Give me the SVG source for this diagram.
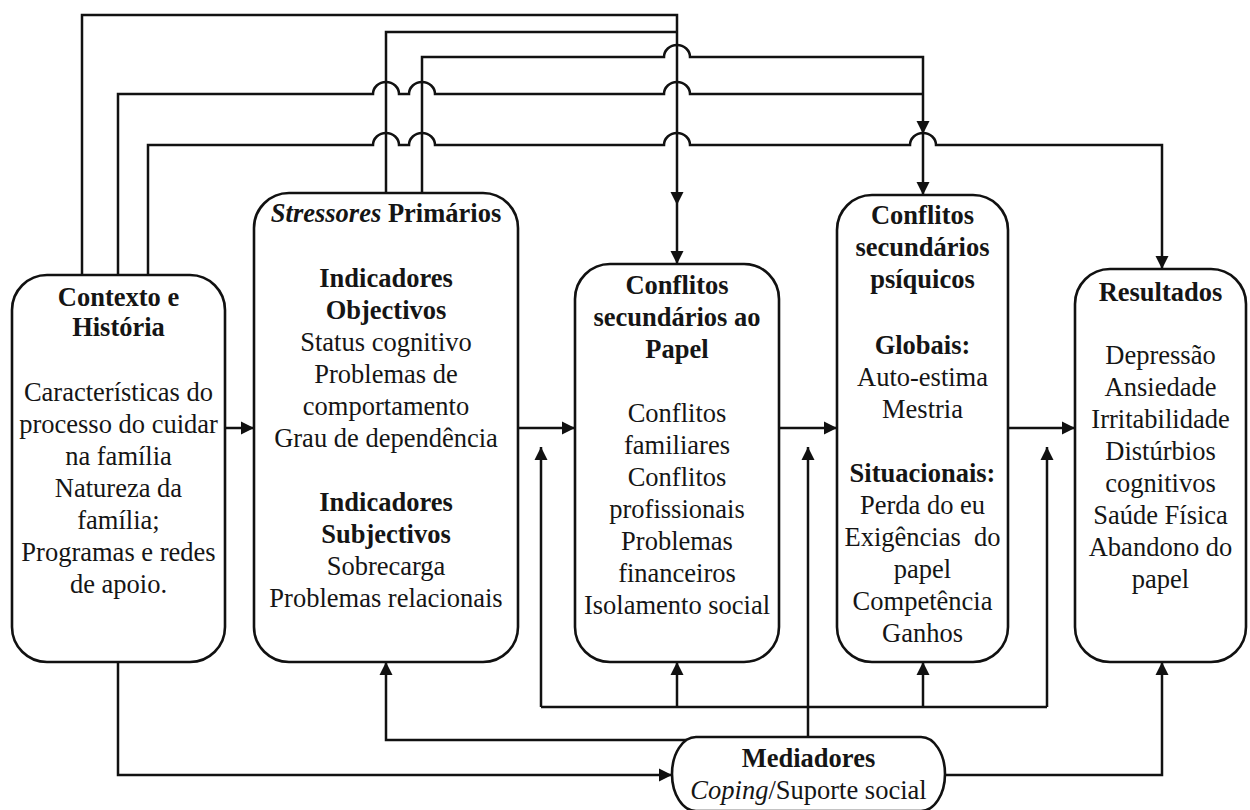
<svg xmlns="http://www.w3.org/2000/svg" xmlns:xlink="http://www.w3.org/1999/xlink" width="1250" height="810" viewBox="0 0 1250 810">
  <style>
    .box { fill: #ffffff; stroke: #111111; stroke-width: 2.6; }
    .ln { fill: none; stroke: #111111; stroke-width: 2.5; stroke-linejoin: miter; }
    .ah { fill: #111111; }
    .lbl text { font-size: 26.5px; fill: #151515; text-anchor: middle; }
    .b { font-weight: bold; }
    .i { font-style: italic; }
  </style>
  <defs>
    <!-- arrowhead pointing down, tip at origin -->
    <path id="ah" d="M0 0 L-6.5 -13 L6.5 -13 Z"/>
  </defs>
  <rect width="1250" height="810" fill="#ffffff"/>

  <!-- connectors -->
  <g id="connectors">
    <!-- feedback lines across the top, with hops at crossings -->
    <path class="ln" d="M82 275 V15 H677 V264"/>
    <path class="ln" d="M386 193 V32 H677"/>
    <path class="ln" d="M422 193 V57 H664 A13 12 0 0 1 690 57 H923 V195"/>
    <path class="ln" d="M118 275 V94 H373 A13 12 0 0 1 399 94 H409 A13 12 0 0 1 435 94 H664 A13 12 0 0 1 690 94 H923"/>
    <path class="ln" d="M148 275 V145 H373 A13 12 0 0 1 399 145 H409 A13 12 0 0 1 435 145 H664 A13 12 0 0 1 690 145 H910 A13 12 0 0 1 936 145 H1162 V269"/>

    <!-- main chain -->
    <path class="ln" d="M225 428 H254"/>
    <path class="ln" d="M518 428 H575"/>
    <path class="ln" d="M779 428 H837"/>
    <path class="ln" d="M1008 428 H1075"/>

    <!-- mediator lines -->
    <path class="ln" d="M541 707 V447"/>
    <path class="ln" d="M1047 707 V447"/>
    <path class="ln" d="M541 707 H1047"/>
    <path class="ln" d="M677 707 V662"/>
    <path class="ln" d="M923 707 V662"/>
    <path class="ln" d="M808 738 V447"/>
    <path class="ln" d="M688 740 H386 V662"/>
    <path class="ln" d="M118 662 V775 H672"/>
    <path class="ln" d="M945 775 H1162 V662"/>

    <!-- arrowheads: down -->
    <use xlink:href="#ah" class="ah" transform="translate(677,205)"/>
    <use xlink:href="#ah" class="ah" transform="translate(677,264)"/>
    <use xlink:href="#ah" class="ah" transform="translate(923,134)"/>
    <use xlink:href="#ah" class="ah" transform="translate(923,195)"/>
    <use xlink:href="#ah" class="ah" transform="translate(1162,269)"/>
    <!-- arrowheads: right -->
    <use xlink:href="#ah" class="ah" transform="translate(254,428) rotate(-90)"/>
    <use xlink:href="#ah" class="ah" transform="translate(575,428) rotate(-90)"/>
    <use xlink:href="#ah" class="ah" transform="translate(837,428) rotate(-90)"/>
    <use xlink:href="#ah" class="ah" transform="translate(1075,428) rotate(-90)"/>
    <use xlink:href="#ah" class="ah" transform="translate(672,775) rotate(-90)"/>
    <!-- arrowheads: up -->
    <use xlink:href="#ah" class="ah" transform="translate(541,447) rotate(180)"/>
    <use xlink:href="#ah" class="ah" transform="translate(808,447) rotate(180)"/>
    <use xlink:href="#ah" class="ah" transform="translate(1047,447) rotate(180)"/>
    <use xlink:href="#ah" class="ah" transform="translate(386,662) rotate(180)"/>
    <use xlink:href="#ah" class="ah" transform="translate(677,662) rotate(180)"/>
    <use xlink:href="#ah" class="ah" transform="translate(923,662) rotate(180)"/>
    <use xlink:href="#ah" class="ah" transform="translate(1162,662) rotate(180)"/>
  </g>

  <g class="lbl" font-family="'Liberation Serif', 'Times New Roman', Times, 'DejaVu Serif', serif">
  <g id="contexto">
    <rect class="box" x="12" y="275" width="213" height="387" rx="35" ry="35"/>
    <text x="118.5" y="306" class="b">Contexto e</text>
    <text x="118.5" y="336" class="b">História</text>
    <text x="118.5" y="401">Características do</text>
    <text x="118.5" y="433">processo do cuidar</text>
    <text x="118.5" y="465">na família</text>
    <text x="118.5" y="497">Natureza da</text>
    <text x="118.5" y="529">família;</text>
    <text x="118.5" y="561">Programas e redes</text>
    <text x="118.5" y="593">de apoio.</text>
  </g>

  <g id="stressores">
    <rect class="box" x="254" y="193" width="264" height="469" rx="35" ry="35"/>
    <text x="386" y="222" class="b"><tspan class="i">Stressores</tspan> Primários</text>
    <text x="386" y="287" class="b">Indicadores</text>
    <text x="386" y="319" class="b">Objectivos</text>
    <text x="386" y="351">Status cognitivo</text>
    <text x="386" y="383">Problemas de</text>
    <text x="386" y="415">comportamento</text>
    <text x="386" y="447">Grau de dependência</text>
    <text x="386" y="511" class="b">Indicadores</text>
    <text x="386" y="543" class="b">Subjectivos</text>
    <text x="386" y="575">Sobrecarga</text>
    <text x="386" y="607">Problemas relacionais</text>
  </g>

  <g id="papel">
    <rect class="box" x="575" y="264" width="204" height="398" rx="35" ry="35"/>
    <text x="677" y="294" class="b">Conflitos</text>
    <text x="677" y="326" class="b">secundários ao</text>
    <text x="677" y="358" class="b">Papel</text>
    <text x="677" y="422">Conflitos</text>
    <text x="677" y="454">familiares</text>
    <text x="677" y="486">Conflitos</text>
    <text x="677" y="518">profissionais</text>
    <text x="677" y="550">Problemas</text>
    <text x="677" y="582">financeiros</text>
    <text x="677" y="614">Isolamento social</text>
  </g>

  <g id="psiquicos">
    <rect class="box" x="837" y="195" width="171" height="467" rx="35" ry="35"/>
    <text x="922.5" y="224" class="b">Conflitos</text>
    <text x="922.5" y="256" class="b">secundários</text>
    <text x="922.5" y="288" class="b">psíquicos</text>
    <text x="922.5" y="354" class="b">Globais:</text>
    <text x="922.5" y="386">Auto-estima</text>
    <text x="922.5" y="418">Mestria</text>
    <text x="922.5" y="482" class="b">Situacionais:</text>
    <text x="922.5" y="514">Perda do eu</text>
    <text x="922.5" y="546" xml:space="preserve">Exigências  do</text>
    <text x="922.5" y="578">papel</text>
    <text x="922.5" y="610">Competência</text>
    <text x="922.5" y="642">Ganhos</text>
  </g>

  <g id="resultados">
    <rect class="box" x="1075" y="269" width="171" height="393" rx="35" ry="35"/>
    <text x="1160.5" y="301" class="b">Resultados</text>
    <text x="1160.5" y="364">Depressão</text>
    <text x="1160.5" y="396">Ansiedade</text>
    <text x="1160.5" y="428">Irritabilidade</text>
    <text x="1160.5" y="460">Distúrbios</text>
    <text x="1160.5" y="492">cognitivos</text>
    <text x="1160.5" y="524">Saúde Física</text>
    <text x="1160.5" y="556">Abandono do</text>
    <text x="1160.5" y="588">papel</text>
  </g>

  <g id="mediadores">
    <rect class="box" x="672" y="737" width="273" height="74" rx="24" ry="37"/>
    <text x="808.5" y="767" class="b">Mediadores</text>
    <text x="808.5" y="799"><tspan class="i">Coping</tspan>/Suporte social</text>
  </g>
  </g>
</svg>
